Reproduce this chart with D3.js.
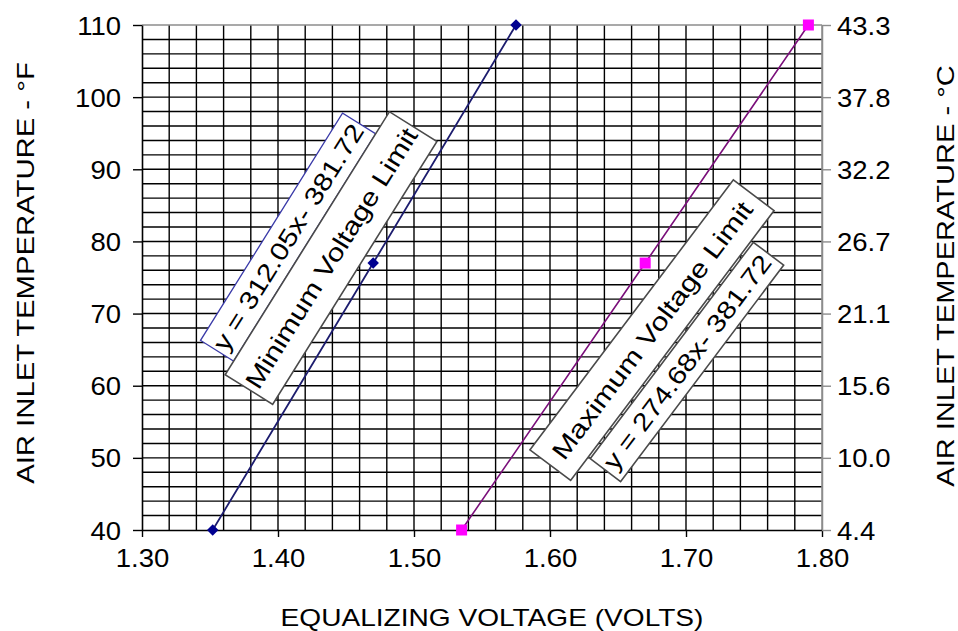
<!DOCTYPE html>
<html>
<head>
<meta charset="utf-8">
<script src="https://cdn.jsdelivr.net/npm/d3@7"></script>
<style>
  html, body { margin: 0; padding: 0; background: #fff; }
  svg { display: block; }
  text { font-family: "Liberation Sans", Arial, sans-serif; fill: #000; }
</style>
</head>
<body>
<svg id="chart" width="958" height="631"></svg>
<script>
// ---------- data ----------
const xTicks = [1.30, 1.40, 1.50, 1.60, 1.70, 1.80];
const yTicksF = [40, 50, 60, 70, 80, 90, 100, 110];
const yTicksC = ["4.4", "10.0", "15.6", "21.1", "26.7", "32.2", "37.8", "43.3"];
const minVolt = [1.352, 1.47, 1.575];
const minTemp = [40, 77, 110];
const maxVolt = [1.535, 1.67, 1.79];
const maxTemp = [40, 77, 110];
const xTitle = "EQUALIZING VOLTAGE (VOLTS)";
const yTitleLeft = "AIR INLET TEMPERATURE - \u00B0F";
const yTitleRight = "AIR INLET TEMPERATURE - \u00B0C";
const labelTexts = ["y = 312.05x- 381.72", "Minimum Voltage Limit", "Maximum Voltage Limit", "y = 274.68x- 381.72"];

// ---------- layout ----------
const svg = d3.select("#chart");
const L = 142, R = 822, T = 25, B = 530;
const x = d3.scaleLinear().domain([1.30, 1.80]).range([L, R]);
const y = d3.scaleLinear().domain([40, 110]).range([B, T]);

// grid
const minorX = d3.range(0, 26).map(i => +(1.30 + i * 0.02).toFixed(2));
const minorY = d3.range(0, 36).map(i => 40 + i * 2);
const grid = svg.append("g");
grid.selectAll("line.v").data(minorX.slice(1, -1)).join("line")
  .attr("x1", d => x(d)).attr("x2", d => x(d)).attr("y1", T).attr("y2", B)
  .attr("stroke", "#000").attr("stroke-width", 1.4);
grid.selectAll("line.h").data(minorY.slice(1, -1)).join("line")
  .attr("x1", L).attr("x2", R).attr("y1", d => y(d)).attr("y2", d => y(d))
  .attr("stroke", "#000").attr("stroke-width", 1.4);
svg.append("line").attr("x1", L).attr("x2", R).attr("y1", T).attr("y2", T).attr("stroke", "#8c8c8c").attr("stroke-width", 1.5);
svg.append("line").attr("x1", R).attr("x2", R).attr("y1", T).attr("y2", B).attr("stroke", "#8c8c8c").attr("stroke-width", 1.5);

// axes
const gx = svg.append("g").attr("transform", `translate(0,${B})`)
  .call(d3.axisBottom(x).tickValues(xTicks).tickSize(7).tickSizeOuter(0).tickFormat(d3.format(".2f")));
const gl = svg.append("g").attr("transform", `translate(${L},0)`)
  .call(d3.axisLeft(y).tickValues(yTicksF).tickSize(9).tickSizeOuter(0).tickFormat(d3.format("d")));
const gr = svg.append("g").attr("transform", `translate(${R},0)`)
  .call(d3.axisRight(y).tickValues(yTicksF).tickSize(9).tickSizeOuter(0).tickFormat((d, i) => yTicksC[i]));
[gx, gl].forEach(g => {
  g.select(".domain").attr("stroke", "#000").attr("stroke-width", 1.6);
  g.selectAll(".tick line").attr("stroke", "#000").attr("stroke-width", 1.4);
});
gr.select(".domain").attr("stroke", "#8c8c8c").attr("stroke-width", 1.5);
gr.selectAll(".tick line").attr("stroke", "#8c8c8c").attr("stroke-width", 1.4);

[gx, gl, gr].forEach(g => g.selectAll(".tick text")
  .attr("font-size", 25).attr("font-family", "Liberation Sans, Arial, sans-serif").attr("fill", "#000"));

const kTick = 1.1;
gx.selectAll(".tick text").each(function () {
  const w = this.getComputedTextLength() * kTick;
  d3.select(this).attr("text-anchor", "start").attr("x", -w / 2).attr("y", 37).attr("dy", 0)
    .attr("textLength", w).attr("lengthAdjust", "spacingAndGlyphs");
});
gl.selectAll(".tick text").each(function () {
  const w = this.getComputedTextLength() * kTick;
  d3.select(this).attr("text-anchor", "start").attr("x", -(L - 121) - w).attr("dy", "0.36em")
    .attr("textLength", w).attr("lengthAdjust", "spacingAndGlyphs");
});
gr.selectAll(".tick text").each(function () {
  const w = this.getComputedTextLength() * kTick;
  d3.select(this).attr("text-anchor", "start").attr("x", 837 - R).attr("dy", "0.36em")
    .attr("textLength", w).attr("lengthAdjust", "spacingAndGlyphs");
});

// axis titles
function title(txt, cx, cy, rot, k) {
  const g = svg.append("g").attr("transform", `translate(${cx},${cy}) rotate(${rot})`);
  const t = g.append("text").attr("font-size", 24).text(txt);
  const w = t.node().getComputedTextLength() * k;
  t.attr("x", -w / 2).attr("y", 0).attr("textLength", w).attr("lengthAdjust", "spacingAndGlyphs");
}
title(xTitle, 492, 626, 0, 1.17);
title(yTitleLeft, 34, 273, -90, 1.22);
title(yTitleRight, 954, 276, -90, 1.21);

// series lines
const line = d3.line().x(d => x(d[0])).y(d => y(d[1]));
const minPts = minVolt.map((v, i) => [v, minTemp[i]]);
const maxPts = maxVolt.map((v, i) => [v, maxTemp[i]]);
svg.append("path").attr("d", line(minPts)).attr("fill", "none").attr("stroke", "#1c1c6e").attr("stroke-width", 1.8);
svg.append("path").attr("d", line(maxPts)).attr("fill", "none").attr("stroke", "#7a0f7a").attr("stroke-width", 1.6);

// markers
svg.selectAll("path.dia").data(minPts).join("path")
  .attr("d", d3.symbol(d3.symbolSquare, 66)())
  .attr("transform", d => `translate(${x(d[0])},${y(d[1])}) rotate(45)`)
  .attr("fill", "#000090");
svg.selectAll("rect.sq").data(maxPts).join("rect")
  .attr("x", d => x(d[0]) - 5.5).attr("y", d => y(d[1]) - 5.5)
  .attr("width", 11).attr("height", 11).attr("fill", "#ff00ff");

// data label boxes (center given in data coordinates)
const boxes = [
  { v: 1.4074, t: 80.6, w: 268, h: 39, a: -58, stroke: "#3a3aa8", sw: 1.3, k: 1.18 },
  { v: 1.4390, t: 77.7, w: 310, h: 56, a: -58, stroke: "#4a4a4a", sw: 1.6, k: 1.2 },
  { v: 1.6750, t: 67.7, w: 338, h: 51, a: -53, stroke: "#4a4a4a", sw: 1.6, k: 1.22 },
  { v: 1.7007, t: 63.3, w: 271, h: 38, a: -53, stroke: "#4a4a4a", sw: 1.6, k: 1.18 }
];
boxes.forEach((b, i) => {
  const g = svg.append("g").attr("transform", `translate(${x(b.v)},${y(b.t)}) rotate(${b.a})`);
  g.append("rect").attr("x", -b.w / 2).attr("y", -b.h / 2).attr("width", b.w).attr("height", b.h)
    .attr("fill", "#fff").attr("stroke", b.stroke).attr("stroke-width", b.sw);
  const t = g.append("text").attr("font-size", 25).text(labelTexts[i]);
  const w = t.node().getComputedTextLength() * b.k;
  t.attr("x", -w / 2).attr("y", 0).attr("dy", "0.36em")
    .attr("textLength", w).attr("lengthAdjust", "spacingAndGlyphs");
});
</script>
</body>
</html>
